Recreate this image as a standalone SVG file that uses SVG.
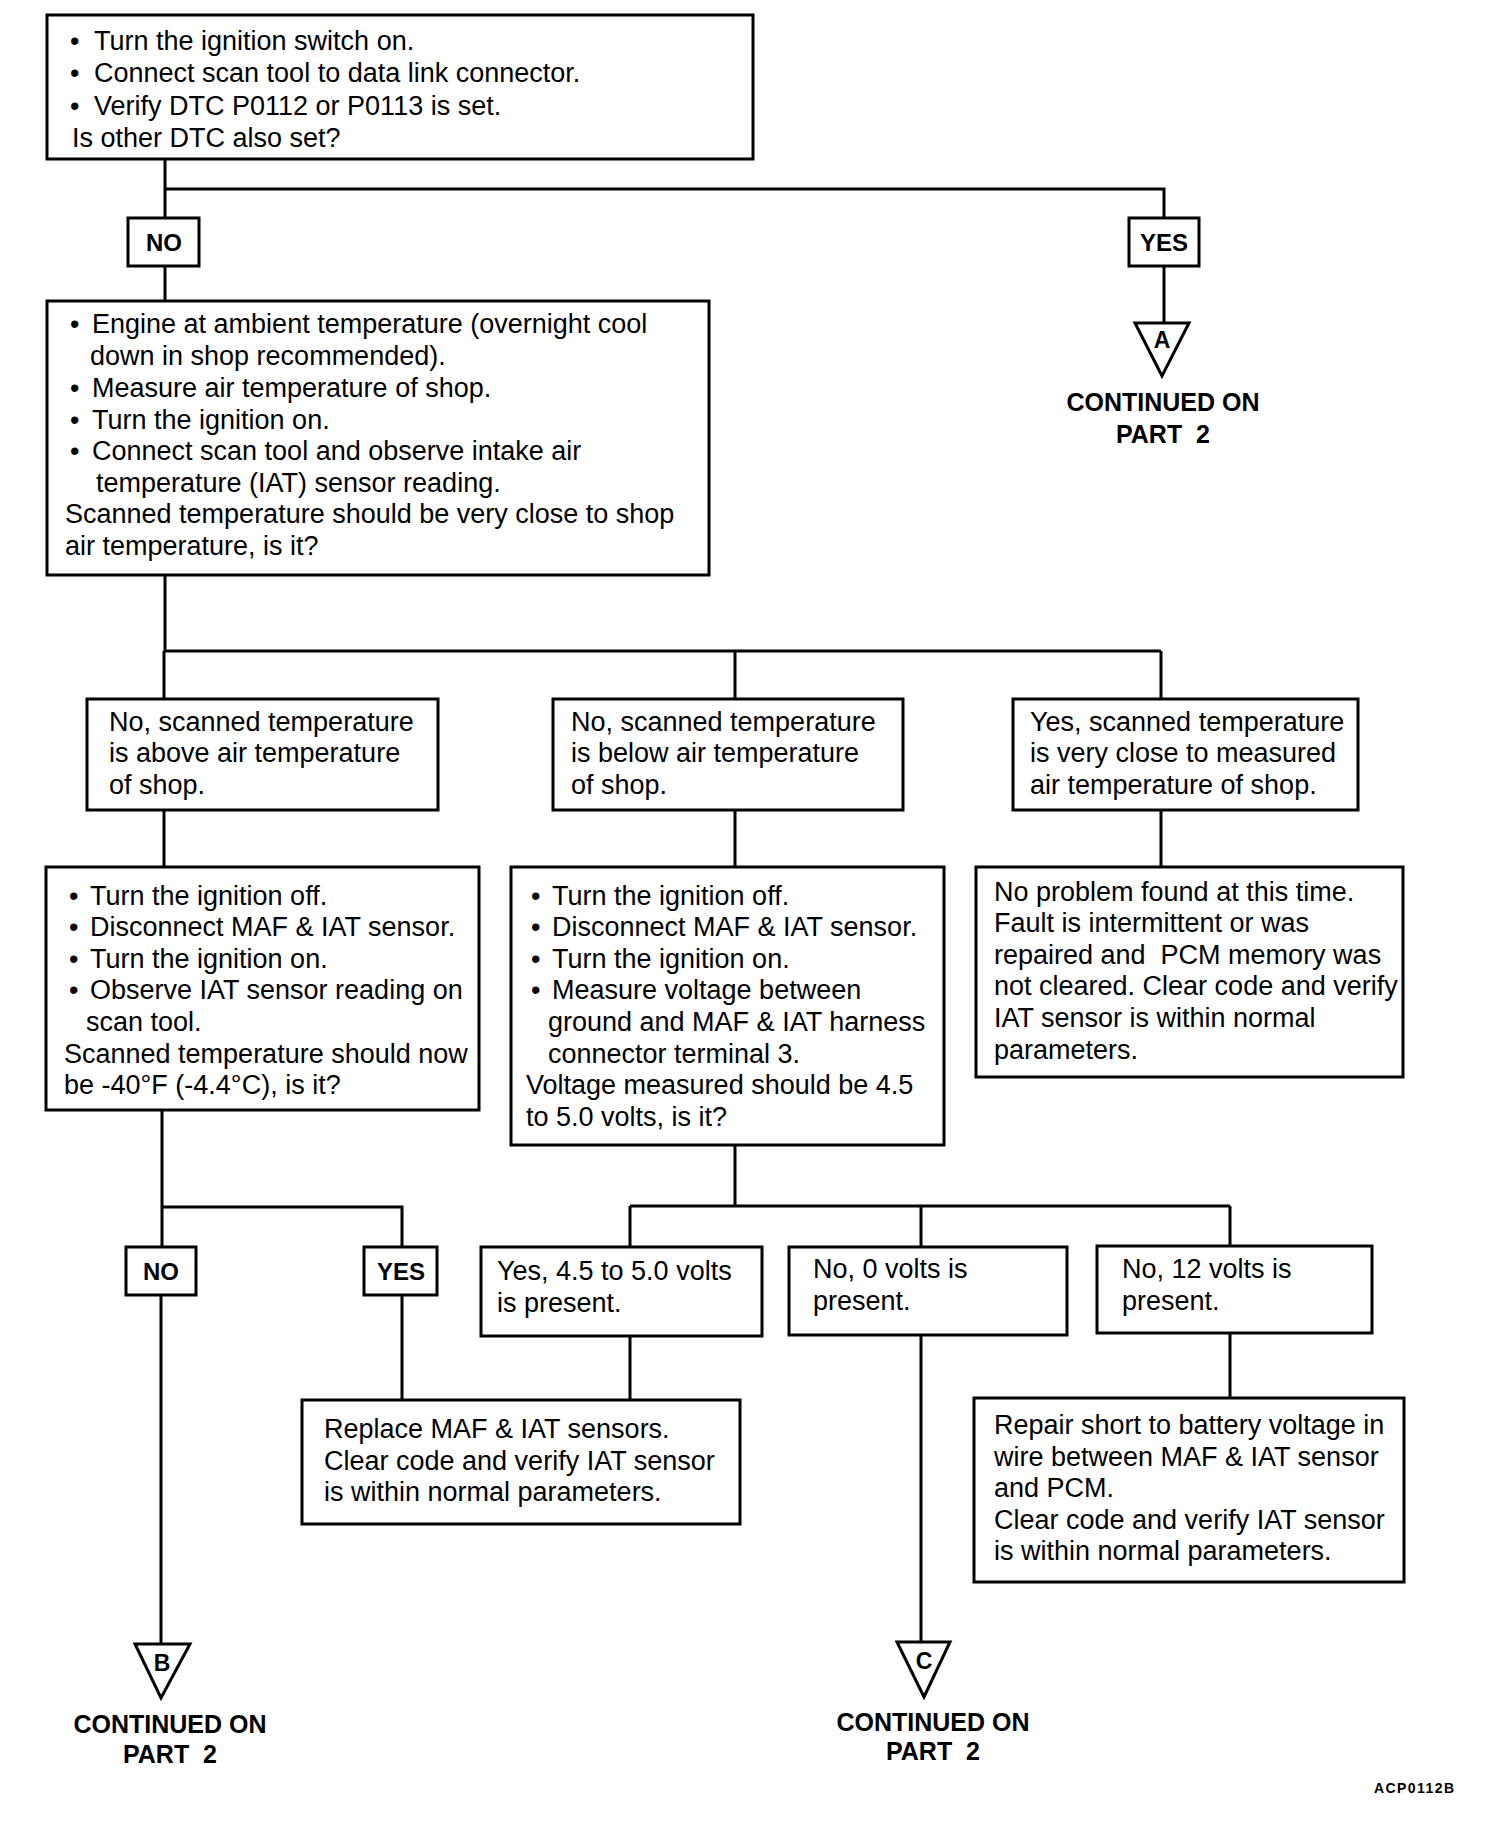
<svg xmlns="http://www.w3.org/2000/svg" width="1504" height="1826" viewBox="0 0 1504 1826">
<style>
.box{fill:#fff;stroke:#000;stroke-width:3}
.ln{fill:none;stroke:#000;stroke-width:3}
.t{font-family:"Liberation Sans",Arial,sans-serif;font-size:27px;fill:#000}
.lb{font-family:"Liberation Sans",Arial,sans-serif;font-size:24px;font-weight:bold;fill:#000;text-anchor:middle}
.co{font-family:"Liberation Sans",Arial,sans-serif;font-size:25px;font-weight:bold;fill:#000;text-anchor:middle}
.tl{font-family:"Liberation Sans",Arial,sans-serif;font-size:23px;font-weight:bold;fill:#000;text-anchor:middle}
</style>
<rect width="1504" height="1826" fill="#fff"/>
<g id="connectors">
<path class="ln" d="M165,159V218M165,189H1164V218M165,266V301M1164,266V323"/>
<path class="ln" d="M165,575V651M164,651H1161M164,651V699M735,651V699M1161,651V699"/>
<path class="ln" d="M164,810V867M735,810V867M1161,810V867"/>
<path class="ln" d="M162,1110V1207H402V1247M162,1207V1247M161,1295V1644M402,1295V1400"/>
<path class="ln" d="M735,1145V1206M630,1206H1230M630,1206V1247M921,1206V1247M1230,1206V1246M630,1336V1400M921,1335V1642M1230,1333V1398"/>
</g>
<g id="n1">
<rect class="box" x="47" y="15" width="706" height="144"/>
<text class="t"><tspan x="70" y="50">•</tspan><tspan x="94" y="50">Turn the ignition switch on.</tspan><tspan x="70" y="82">•</tspan><tspan x="94" y="82">Connect scan tool to data link connector.</tspan><tspan x="70" y="115">•</tspan><tspan x="94" y="115">Verify DTC P0112 or P0113 is set.</tspan><tspan x="72" y="147">Is other DTC also set?</tspan></text>
</g>
<g id="no1"><rect class="box" x="128" y="218" width="71" height="48"/><text class="lb" x="164" y="251">NO</text></g>
<g id="yes1"><rect class="box" x="1129" y="218" width="70" height="48"/><text class="lb" x="1164" y="251">YES</text></g>
<g id="contA">
<polygon class="box" points="1135,323 1189,323 1162,376"/>
<text class="tl" x="1162" y="348">A</text>
<text class="co" x="1163" y="411">CONTINUED ON</text>
<text class="co" x="1163" y="443">PART&#160; 2</text>
</g>
<g id="n2">
<rect class="box" x="47" y="301" width="662" height="274"/>
<text class="t"><tspan x="70" y="333">•</tspan><tspan x="92" y="333">Engine at ambient temperature (overnight cool</tspan><tspan x="90" y="365">down in shop recommended).</tspan><tspan x="70" y="397">•</tspan><tspan x="92" y="397">Measure air temperature of shop.</tspan><tspan x="70" y="429">•</tspan><tspan x="92" y="429">Turn the ignition on.</tspan><tspan x="70" y="460">•</tspan><tspan x="92" y="460">Connect scan tool and observe intake air</tspan><tspan x="96" y="492">temperature (IAT) sensor reading.</tspan><tspan x="65" y="523">Scanned temperature should be very close to shop</tspan><tspan x="65" y="555">air temperature, is it?</tspan></text>
</g>
<g id="n3a">
<rect class="box" x="87" y="699" width="351" height="111"/>
<text class="t"><tspan x="109" y="731">No, scanned temperature</tspan><tspan x="109" y="762">is above air temperature</tspan><tspan x="109" y="794">of shop.</tspan></text>
</g>
<g id="n3b">
<rect class="box" x="553" y="699" width="350" height="111"/>
<text class="t"><tspan x="571" y="731">No, scanned temperature</tspan><tspan x="571" y="762">is below air temperature</tspan><tspan x="571" y="794">of shop.</tspan></text>
</g>
<g id="n3c">
<rect class="box" x="1013" y="699" width="345" height="111"/>
<text class="t"><tspan x="1030" y="731">Yes, scanned temperature</tspan><tspan x="1030" y="762">is very close to measured</tspan><tspan x="1030" y="794">air temperature of shop.</tspan></text>
</g>
<g id="n4a">
<rect class="box" x="46" y="867" width="433" height="243"/>
<text class="t"><tspan x="69" y="905">•</tspan><tspan x="90" y="905">Turn the ignition off.</tspan><tspan x="69" y="936">•</tspan><tspan x="90" y="936">Disconnect MAF &amp; IAT sensor.</tspan><tspan x="69" y="968">•</tspan><tspan x="90" y="968">Turn the ignition on.</tspan><tspan x="69" y="999">•</tspan><tspan x="90" y="999">Observe IAT sensor reading on</tspan><tspan x="86" y="1031">scan tool.</tspan><tspan x="64" y="1063">Scanned temperature should now</tspan><tspan x="64" y="1094">be -40°F (-4.4°C), is it?</tspan></text>
</g>
<g id="n4b">
<rect class="box" x="511" y="867" width="433" height="278"/>
<text class="t"><tspan x="531" y="905">•</tspan><tspan x="552" y="905">Turn the ignition off.</tspan><tspan x="531" y="936">•</tspan><tspan x="552" y="936">Disconnect MAF &amp; IAT sensor.</tspan><tspan x="531" y="968">•</tspan><tspan x="552" y="968">Turn the ignition on.</tspan><tspan x="531" y="999">•</tspan><tspan x="552" y="999">Measure voltage between</tspan><tspan x="548" y="1031">ground and MAF &amp; IAT harness</tspan><tspan x="548" y="1063">connector terminal 3.</tspan><tspan x="526" y="1094">Voltage measured should be 4.5</tspan><tspan x="526" y="1126">to 5.0 volts, is it?</tspan></text>
</g>
<g id="n4c">
<rect class="box" x="976" y="867" width="427" height="210"/>
<text class="t"><tspan x="994" y="901">No problem found at this time.</tspan><tspan x="994" y="932">Fault is intermittent or was</tspan><tspan x="994" y="964">repaired and&#160; PCM memory was</tspan><tspan x="994" y="995">not cleared. Clear code and verify</tspan><tspan x="994" y="1027">IAT sensor is within normal</tspan><tspan x="994" y="1059">parameters.</tspan></text>
</g>
<g id="no2"><rect class="box" x="126" y="1247" width="70" height="48"/><text class="lb" x="161" y="1280">NO</text></g>
<g id="yes2"><rect class="box" x="364" y="1247" width="73" height="48"/><text class="lb" x="401" y="1280">YES</text></g>
<g id="n5a">
<rect class="box" x="481" y="1247" width="281" height="89"/>
<text class="t"><tspan x="497" y="1280">Yes, 4.5 to 5.0 volts</tspan><tspan x="497" y="1312">is present.</tspan></text>
</g>
<g id="n5b">
<rect class="box" x="789" y="1247" width="278" height="88"/>
<text class="t"><tspan x="813" y="1278">No, 0 volts is</tspan><tspan x="813" y="1310">present.</tspan></text>
</g>
<g id="n5c">
<rect class="box" x="1097" y="1246" width="275" height="87"/>
<text class="t"><tspan x="1122" y="1278">No, 12 volts is</tspan><tspan x="1122" y="1310">present.</tspan></text>
</g>
<g id="n6a">
<rect class="box" x="302" y="1400" width="438" height="124"/>
<text class="t"><tspan x="324" y="1438">Replace MAF &amp; IAT sensors.</tspan><tspan x="324" y="1470">Clear code and verify IAT sensor</tspan><tspan x="324" y="1501">is within normal parameters.</tspan></text>
</g>
<g id="n6c">
<rect class="box" x="974" y="1398" width="430" height="184"/>
<text class="t"><tspan x="994" y="1434">Repair short to battery voltage in</tspan><tspan x="994" y="1466">wire between MAF &amp; IAT sensor</tspan><tspan x="994" y="1497">and PCM.</tspan><tspan x="994" y="1529">Clear code and verify IAT sensor</tspan><tspan x="994" y="1560">is within normal parameters.</tspan></text>
</g>
<g id="contB">
<polygon class="box" points="135,1644 190,1644 161,1698"/>
<text class="tl" x="162" y="1671">B</text>
<text class="co" x="170" y="1733">CONTINUED ON</text>
<text class="co" x="170" y="1763">PART&#160; 2</text>
</g>
<g id="contC">
<polygon class="box" points="897,1642 950,1642 924,1697"/>
<text class="tl" x="924" y="1669">C</text>
<text class="co" x="933" y="1731">CONTINUED ON</text>
<text class="co" x="933" y="1760">PART&#160; 2</text>
</g>
<text x="1374" y="1793" font-family="Liberation Sans, Arial, sans-serif" font-size="14" font-weight="bold" textLength="80">ACP0112B</text>
</svg>
